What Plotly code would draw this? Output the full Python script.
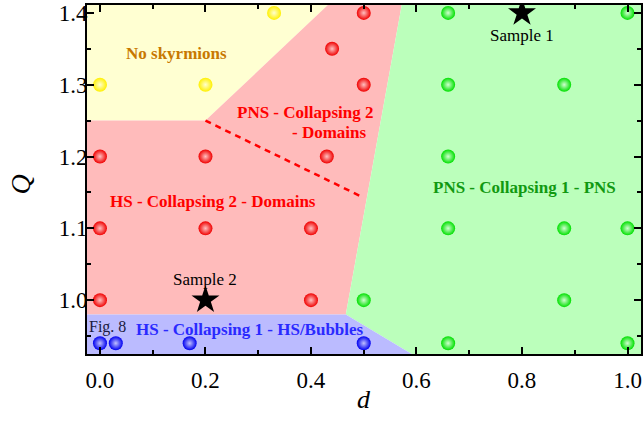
import plotly.graph_objects as go

# ---- data ----
yellow_d = [0.0, 0.2, 0.33]
yellow_q = [1.3, 1.3, 1.4]
red_d = [0.5, 0.44, 0.5, 0.0, 0.2, 0.43, 0.0, 0.2, 0.4, 0.0, 0.4]
red_q = [1.4, 1.35, 1.3, 1.2, 1.2, 1.2, 1.1, 1.1, 1.1, 1.0, 1.0]
green_d = [0.66, 1.0, 0.66, 0.88, 0.66, 0.66, 0.88, 1.0, 0.5, 0.88, 0.66, 1.0]
green_q = [1.4, 1.4, 1.3, 1.3, 1.2, 1.1, 1.1, 1.1, 1.0, 1.0, 0.94, 0.94]
blue_d = [0.0, 0.03, 0.17, 0.5]
blue_q = [0.94, 0.94, 0.94, 0.94]
star_d = [0.8, 0.2]
star_q = [1.4, 1.0]
star_labels = ["Sample 1", "Sample 2"]

XMIN, XMAX = -0.0246, 1.0256
YMIN, YMAX = 0.925, 1.411

# region boundaries (data coordinates)
yellow_reg_d = [XMIN, 0.432, 0.2, XMIN]
yellow_reg_q = [YMAX, YMAX, 1.25, 1.25]
red_reg_d = [XMIN, 0.2, 0.432, 0.572, 0.466, XMIN]
red_reg_q = [1.25, 1.25, YMAX, YMAX, 0.98, 0.98]
green_reg_d = [0.572, XMAX, XMAX, 0.591, 0.466]
green_reg_q = [YMAX, YMAX, YMIN, YMIN, 0.98]
blue_reg_d = [XMIN, 0.466, 0.591, XMIN]
blue_reg_q = [0.98, 0.98, YMIN, YMIN]
dash_d = [0.2, 0.499]
dash_q = [1.25, 1.143]

FONT = "Liberation Serif"

fig = go.Figure()

for xs, ys, col in [
    (yellow_reg_d, yellow_reg_q, "#FFFFD2"),
    (red_reg_d, red_reg_q, "#FFBBBB"),
    (green_reg_d, green_reg_q, "#BBFFBB"),
    (blue_reg_d, blue_reg_q, "#BBBBFF"),
]:
    fig.add_trace(go.Scatter(x=xs, y=ys, fill="toself", fillcolor=col, mode="none",
                             hoverinfo="skip", showlegend=False))

fig.add_trace(go.Scatter(x=dash_d, y=dash_q, mode="lines",
                         line=dict(color="#FF0000", width=2.5, dash="6px,5px"),
                         showlegend=False))

for xs, ys, col, hl in [
    (yellow_d, yellow_q, "#FFF000", "#FFFFD0"),
    (red_d, red_q, "#F00000", "#FFC0C0"),
    (green_d, green_q, "#00E000", "#D0FFD0"),
    (blue_d, blue_q, "#0000F0", "#C0C0FF"),
]:
    fig.add_trace(go.Scatter(x=xs, y=ys, mode="markers",
                             marker=dict(size=14, color=col, line=dict(width=0),
                                         gradient=dict(type="radial", color=hl)),
                             showlegend=False))

fig.add_trace(go.Scatter(x=star_d, y=star_q, mode="markers",
                         marker=dict(symbol="star", size=21, color="black", line=dict(width=0)),
                         showlegend=False))

ann = [
    dict(x=0.146, y=1.343, text="<b>No skyrmions</b>", color="#C87800"),
    dict(x=0.389, y=1.262, text="<b>PNS - Collapsing 2</b>", color="#FF0000"),
    dict(x=0.436, y=1.233, text="<b>- Domains</b>", color="#FF0000"),
    dict(x=0.214, y=1.138, text="<b>HS - Collapsing 2 - Domains</b>", color="#FF0000"),
    dict(x=0.804, y=1.157, text="<b>PNS - Collapsing 1 - PNS</b>", color="#119911"),
    dict(x=0.284, y=0.959, text="<b>HS - Collapsing 1 - HS/Bubbles</b>", color="#2A2AFF"),
]
for a in ann:
    fig.add_annotation(x=a["x"], y=a["y"], text=a["text"], showarrow=False,
                       font=dict(family=FONT, size=17, color=a["color"]))
fig.add_annotation(x=0.015, y=0.962, text="Fig. 8", showarrow=False,
                   font=dict(family=FONT, size=16, color="#1a1a40"))
fig.add_annotation(x=star_d[0], y=1.368, text=star_labels[0], showarrow=False,
                   font=dict(family=FONT, size=17, color="black"))
fig.add_annotation(x=star_d[1], y=1.029, text=star_labels[1], showarrow=False,
                   font=dict(family=FONT, size=17, color="black"))

# axis titles
fig.add_annotation(xref="paper", yref="paper", x=0.5, y=-0.13, yanchor="middle",
                   text="<i>d</i>", showarrow=False,
                   font=dict(family=FONT, size=26, color="black"))
fig.add_annotation(xref="paper", yref="paper", x=-0.12, y=0.484, xanchor="center",
                   text="<i>Q</i>", showarrow=False, textangle=-90,
                   font=dict(family=FONT, size=28, color="black"))

axis_common = dict(showline=True, linecolor="black", linewidth=2, mirror="allticks",
                   ticks="inside", ticklen=7, tickwidth=2, tickcolor="black",
                   showgrid=False, zeroline=False, automargin=False,
                   tickfont=dict(family=FONT, size=23, color="black"))

fig.update_xaxes(range=[XMIN, XMAX], dtick=0.2, tick0=0, tickformat=".1f",
                 minor=dict(ticks="inside", ticklen=4, dtick=0.1, tickwidth=2, tickcolor="black"),
                 ticklabelstandoff=4, **axis_common)
fig.update_yaxes(range=[YMIN, YMAX], dtick=0.1, tick0=1.0, tickformat=".1f",
                 minor=dict(ticks="inside", ticklen=4, dtick=0.05, tickwidth=2, tickcolor="black"),
                 ticklabelstandoff=-7, **axis_common)

fig.update_layout(width=644, height=425, margin=dict(l=87, r=3, t=5, b=71),
                  plot_bgcolor="white", paper_bgcolor="white", showlegend=False,
                  font=dict(family=FONT))

fig.write_html("out.html", config={"displayModeBar": False},
               post_script="document.body.style.margin='0px';document.body.style.overflow='hidden';")
